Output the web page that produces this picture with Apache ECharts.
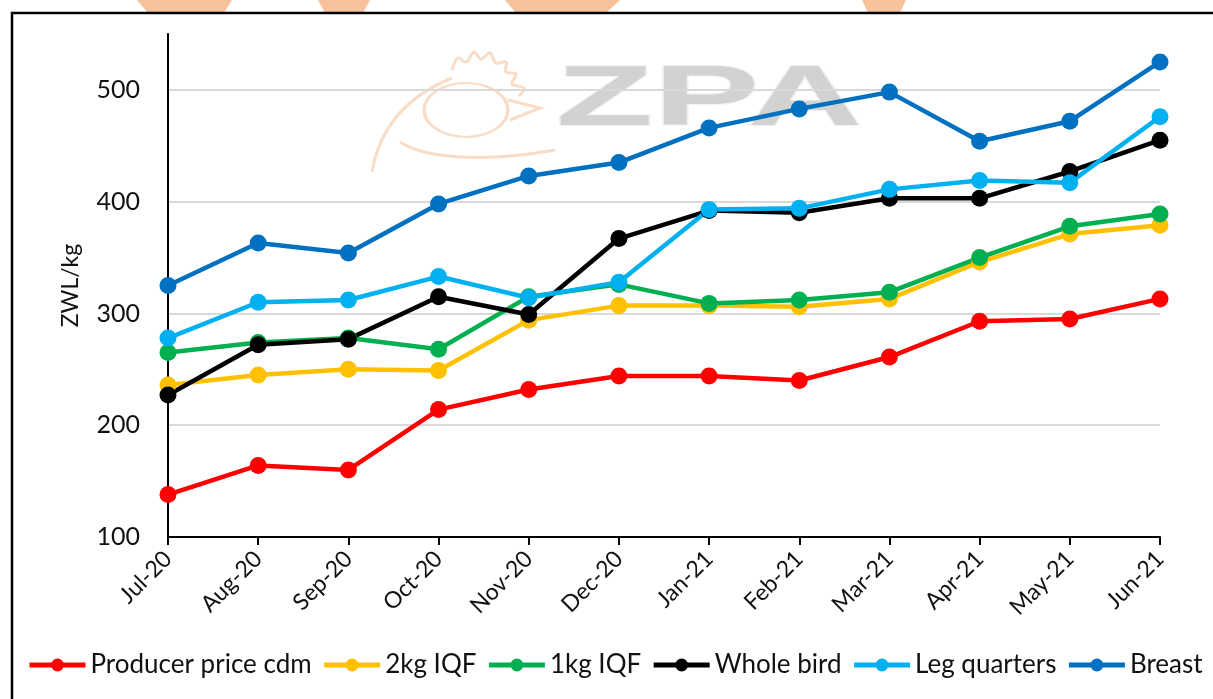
<!DOCTYPE html>
<html>
<head>
<meta charset="utf-8">
<script src="https://cdn.jsdelivr.net/npm/echarts@6/dist/echarts.min.js"></script>
<style>
body{margin:0;background:#fff;}
#chart{width:1213px;height:699px;}
</style>
</head>
<body>
<div id="chart"></div>
<script>
var months = ['Jul-20','Aug-20','Sep-20','Oct-20','Nov-20','Dec-20','Jan-21','Feb-21','Mar-21','Apr-21','May-21','Jun-21']
var producer_price = [138,164,160,214,232,244,244,240,261,293,295,313]
var iqf_2kg = [236,245,250,249,294,307,307,306,313,346,371,379]
var iqf_1kg = [265,274,278,268,315,326,309,312,319,350,378,389]
var whole_bird = [227,272,277,315,299,367,392,390,403,403,427,455]
var leg_quarters = [278,310,312,333,314,328,393,394,411,419,417,476]
var breast = [325,363,354,398,423,435,466,483,498,454,472,525]
var y_ticks = [100,200,300,400,500]

var font = 'Lato'
var wm_color = '#f9dcc5'
var my_chart = echarts.init(document.getElementById('chart'));

function make_series(name, color, data){
	return {
		name:name,
		type:'line',
		data:data,
		symbol:'circle',
		symbolSize:17,
		lineStyle:{width:4.5,color:color},
		itemStyle:{color:color},
		z:3
	}
}

var wm_style = {fill:'none',stroke:wm_color,lineWidth:3}

my_chart.setOption({
	backgroundColor:'#fff',
	animation:false,
	textStyle:{fontFamily:font},
	grid:{left:168,right:53,top:34,bottom:162},
	legend:{
		bottom:16,
		left:22,
		itemWidth:56,
		itemHeight:16,
		itemGap:10,
		lineStyle:{width:5},
		textStyle:{fontSize:26,color:'#111',fontFamily:font},
		data:['Producer price cdm','2kg IQF','1kg IQF','Whole bird','Leg quarters','Breast']
	},
	xAxis:{
		type:'category',
		boundaryGap:false,
		data:months,
		axisLine:{lineStyle:{color:'#000',width:2}},
		axisTick:{show:true,length:8,lineStyle:{color:'#000',width:2}},
		axisLabel:{rotate:45,fontSize:23,color:'#111',margin:18,fontFamily:font}
	},
	yAxis:{
		type:'value',
		min:y_ticks[0],
		max:550,
		interval:100,
		name:'ZWL/kg',
		nameLocation:'middle',
		nameGap:86,
		nameTextStyle:{fontSize:23,color:'#111',fontFamily:font},
		axisLine:{show:true,lineStyle:{color:'#000',width:2}},
		axisTick:{show:false},
		axisLabel:{fontSize:25,color:'#111',margin:28,showMaxLabel:false,fontFamily:font,
			formatter:function(v){ return y_ticks.indexOf(v) >= 0 ? v : '' }},
		// the extra 550 tick gets a transparent line
		splitLine:{lineStyle:{color:['#d9d9d9','#d9d9d9','#d9d9d9','#d9d9d9','#d9d9d9','rgba(0,0,0,0)'],width:2}}
	},
	graphic:[
		// orange pieces at the top edge
		{type:'polygon',z:0,shape:{points:[[137,0],[232,0],[224,13],[148,13]]},style:{fill:'#f6c29c'}},
		{type:'polygon',z:0,shape:{points:[[318,0],[370,0],[363,13],[325,13]]},style:{fill:'#f6c29c'}},
		{type:'polygon',z:0,shape:{points:[[505,0],[620,0],[606,13],[516,13]]},style:{fill:'#f6c29c'}},
		{type:'polygon',z:0,shape:{points:[[862,0],[906,0],[900,13],[868,13]]},style:{fill:'#f6c29c'}},
		// frame
		{type:'rect',z:0,shape:{x:12,y:13,width:1230,height:720},style:{fill:'none',stroke:'#000',lineWidth:2.5}},
		// watermark: rough chicken outline and ZPA letters
		{type:'bezierCurve',z:0,shape:{x1:372,y1:172,cpx1:380,cpy1:125,cpx2:410,cpy2:95,x2:452,y2:78},style:wm_style},
		{type:'circle',z:0,x:466,y:110,scaleX:1.55,shape:{cx:0,cy:0,r:27},style:{fill:'none',stroke:wm_color,lineWidth:2.2}},
		{type:'polyline',z:0,shape:{smooth:0.4,points:[[452,70],[458,58],[466,62],[474,52],[481,59],[490,53],[496,63],[506,62],[506,72],[516,74],[512,84],[524,88],[519,96]]},style:wm_style},
		{type:'polyline',z:0,shape:{points:[[508,100],[540,108],[510,120]]},style:wm_style},
		{type:'bezierCurve',z:0,shape:{x1:400,y1:142,cpx1:430,cpy1:162,cpx2:500,cpy2:160,x2:555,y2:150},style:wm_style},
		{type:'text',z:0,x:556,y:58,scaleX:1.85,style:{text:'ZPA',font:'bold 86px "Liberation Sans"',fill:'#d2d2d2',stroke:'#f2f2f2',lineWidth:2}}
	],
	series:[
		make_series('Producer price cdm','#ff0000',producer_price),
		make_series('2kg IQF','#ffc000',iqf_2kg),
		make_series('1kg IQF','#00b050',iqf_1kg),
		make_series('Whole bird','#000000',whole_bird),
		make_series('Leg quarters','#00b0f0',leg_quarters),
		make_series('Breast','#0070c0',breast)
	]
});
</script>
</body>
</html>
